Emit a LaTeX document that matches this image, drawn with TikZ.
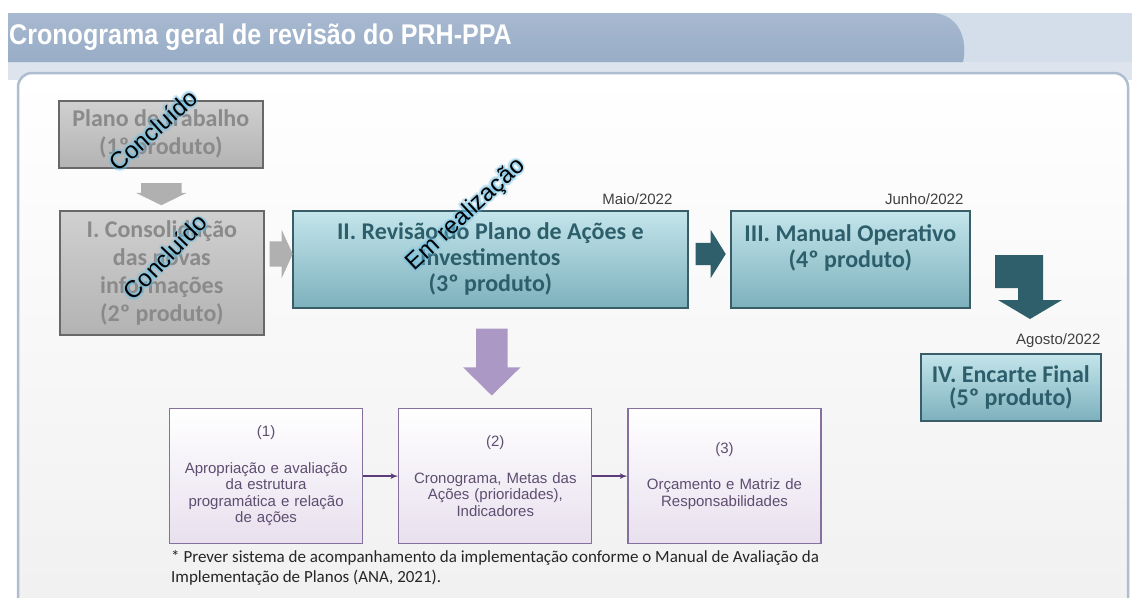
\documentclass[tikz,border=0pt]{standalone}
\usepackage{fontspec}
\setmainfont{Carlito}
\newfontfamily\arialfont{Liberation Sans}
\newfontfamily\titlefont[FakeStretch=0.88]{Liberation Sans}
\usetikzlibrary{shapes,arrows,positioning,calc,shadows,shapes.geometric}

\definecolor{tealtop}{HTML}{C4E5EB}
\definecolor{tealbot}{HTML}{7DB1BD}
\definecolor{tealedge}{HTML}{3A5E67}
\definecolor{tealtext}{HTML}{2D5E6B}
\definecolor{tealarrow}{HTML}{2E5F6B}
\definecolor{graytop}{HTML}{D0D0D0}
\definecolor{graybot}{HTML}{B3B3B3}
\definecolor{grayedge}{HTML}{686868}
\definecolor{graytext}{HTML}{8A8A8A}
\definecolor{grayarrowc}{HTML}{B0B0B0}
\definecolor{lilacfill}{HTML}{E8E0EE}
\definecolor{lilacedge}{HTML}{8670A0}
\definecolor{lilactext}{HTML}{5E4E70}
\definecolor{lilacarrow}{HTML}{AB98C5}
\definecolor{lilaclink}{HTML}{5A3D7A}
\definecolor{bannerdark}{HTML}{8DA3C1}
\definecolor{bannermid}{HTML}{A9BBD1}
\definecolor{bannerlight}{HTML}{D4DEEA}
\definecolor{stripc}{HTML}{DDE4ED}
\definecolor{paneledge}{HTML}{AEBDD0}
\definecolor{glowc}{HTML}{6CC0E6}

\begin{document}
\begin{tikzpicture}[x=1pt, y=-1pt, node distance=35pt, >=latex']
    \tikzstyle{graybox} = [rectangle, draw=grayedge, line width=1.6pt, top color=graytop, bottom color=graybot, text=graytext, font=\bfseries\fontsize{24}{28}\selectfont, align=center, inner sep=0pt, anchor=north west, drop shadow={shadow xshift=1.5pt, shadow yshift=-1.5pt, opacity=.35}]
    \tikzstyle{tealbox} = [graybox, draw=tealedge, top color=tealtop, bottom color=tealbot, text=tealtext, font=\bfseries\fontsize{24}{26}\selectfont]
    \tikzstyle{lilacbox} = [rectangle, draw=lilacedge, line width=1.2pt, top color=white, bottom color=lilacfill, text=lilactext, font=\arialfont\fontsize{15}{16.5}\selectfont, align=center, text width=186pt, minimum width=193pt, minimum height=135pt, inner sep=0pt]
    \tikzstyle{blockarrow} = [single arrow, inner xsep=0pt, outer sep=0pt]
    \tikzstyle{date} = [font=\arialfont\fontsize{15}{15}\selectfont, text=black!75, inner sep=0pt, anchor=south east]
    \tikzstyle{stamp} = [font=\arialfont\fontsize{24}{24}\selectfont, inner sep=0pt]
    \tikzstyle{link} = [draw, ->, line width=1.6pt, lilaclink]

    % background and title banner
    \clip (0,0) rectangle (1132,597);
    \fill[white] (0,0) rectangle (1132,597);
    \fill[bannerlight] (8,13) rectangle (1132,62);
    \fill[stripc] (8,62) rectangle (1132,80);
    \shade[left color=bannerdark, right color=bannermid, shading angle=0] (8,13) -- (930,13) .. controls (958,13) and (968,38) .. (963,62) -- (8,62) -- cycle;
    \shade[top color=white!20!bannermid, bottom color=bannerdark, opacity=.6] (8,13) -- (930,13) .. controls (958,13) and (968,38) .. (963,62) -- (8,62) -- cycle;
    \node [anchor=west, text=white, font=\titlefont\bfseries\fontsize{28.5}{28.5}\selectfont, inner sep=0pt] (title) at (9,37) {Cronograma geral de revisão do PRH-PPA};
    \draw [paneledge, line width=2.5pt, rounded corners=14pt, top color=white, bottom color=black!6] (18,73) rectangle (1128,640);

    % product boxes
    \node [graybox, minimum width=204pt, minimum height=67pt] (plano) at (58,100) {Plano de trabalho\\(1º produto)};
    \node [graybox, minimum width=204pt, minimum height=124pt] (consol) at (59,210) {I. Consolidação\\das novas\\informações\\(2º produto)};
    \node [tealbox, minimum width=395pt, minimum height=97pt] (rev) at (292,210) {II. Revisão do Plano de Ações e\\Investimentos\\(3º produto)};
    \node [tealbox, minimum width=239pt, minimum height=97pt] (manual) at (730,210) {III. Manual Operativo\\(4º produto)\\\mbox{}};
    \node [tealbox, minimum width=180pt, minimum height=67pt, font=\bfseries\fontsize{24}{23}\selectfont] (encarte) at (920,353) {IV. Encarte Final\\(5º produto)};

    \node [date] (maio) at ($(rev.north east)+(-16,-5)$) {Maio/2022};
    \node [date] (junho) at ($(manual.north east)+(-7,-5)$) {Junho/2022};
    \node [date] (agosto) at ($(encarte.north east)+(-1,-5)$) {Agosto/2022};

    % block arrows
    \node [blockarrow, fill=grayarrowc, rotate=-90, minimum height=22pt, inner ysep=20pt, minimum width=50pt, single arrow head extend=5pt, single arrow tip angle=128] (a0) at ($(plano.south)!0.5!(consol.north)$) {};
    \node [blockarrow, fill=grayarrowc, minimum height=23pt, inner ysep=12.5pt, minimum width=48pt, single arrow head extend=11.5pt, single arrow tip angle=131] (a1) at ($(consol.north east)!0.5!(rev.north west)+(0,44)$) {};
    \node [blockarrow, fill=tealarrow, minimum height=30pt, inner ysep=11pt, minimum width=48pt, single arrow head extend=13pt, single arrow tip angle=116] (a2) at ($(rev.north east)!0.45!(manual.north west)+(0,44)$) {};
    \fill [tealarrow] (995,255) -- (1043,255) -- (1043,300) -- (1062,300) -- (1030,319) -- (998,300) -- (1018,300) -- (1018,288) -- (995,288) -- cycle;

    % steps of the revision
    \node [lilacbox, anchor=north west] (step1) at (169,408) {(1)\\[20pt]Apropriação e avaliação\\da estrutura\\programática e relação\\de ações};
    \node [lilacbox, right=35pt of step1] (step2) {(2)\\[20pt]Cronograma, Metas das\\Ações (prioridades),\\Indicadores};
    \node [lilacbox, right=35pt of step2] (step3) {(3)\\[20pt]Orçamento e Matriz de\\Responsabilidades};
    \node [blockarrow, fill=lilacarrow, rotate=-90, minimum height=67pt, inner ysep=15.5pt, minimum width=57pt, single arrow head extend=13pt, single arrow tip angle=91] (a3) at ($(rev.south)!0.5!(step2.north)+(-1,-4)$) {};
    \draw [link] (step1) -- (step2);
    \draw [link] (step2) -- (step3);

    \node [anchor=north west, align=left, inner sep=0pt, text=black!85, font=\fontsize{17}{20}\selectfont] (note) at (171,550) {* Prever sistema de acompanhamento da implementação conforme o Manual de Avaliação da\\Implementação de Planos (ANA, 2021).};

    % status stamps
    \coordinate (s1) at (153,130);
    \coordinate (s2) at (165,257);
    \coordinate (s3) at (466,215);
    \foreach \dx/\dy in {2.5/0,-2.5/0,0/2.5,0/-2.5,1.8/1.8,-1.8/1.8,1.8/-1.8,-1.8/-1.8,1.2/0,-1.2/0,0/1.2,0/-1.2} {
        \node [stamp, text=glowc, opacity=.22, rotate=42] (g1) at ($(s1)+(\dx,\dy)$) {Concluído};
        \node [stamp, text=glowc, opacity=.22, rotate=46] (g2) at ($(s2)+(\dx,\dy)$) {Concluído};
        \node [stamp, text=glowc, opacity=.22, rotate=43] (g3) at ($(s3)+(\dx,\dy)$) {Em realização};
    }
    \node [stamp, rotate=42] (done1) at (s1) {Concluído};
    \node [stamp, rotate=46] (done2) at (s2) {Concluído};
    \node [stamp, rotate=43] (ongoing) at (s3) {Em realização};
\end{tikzpicture}
\end{document}
